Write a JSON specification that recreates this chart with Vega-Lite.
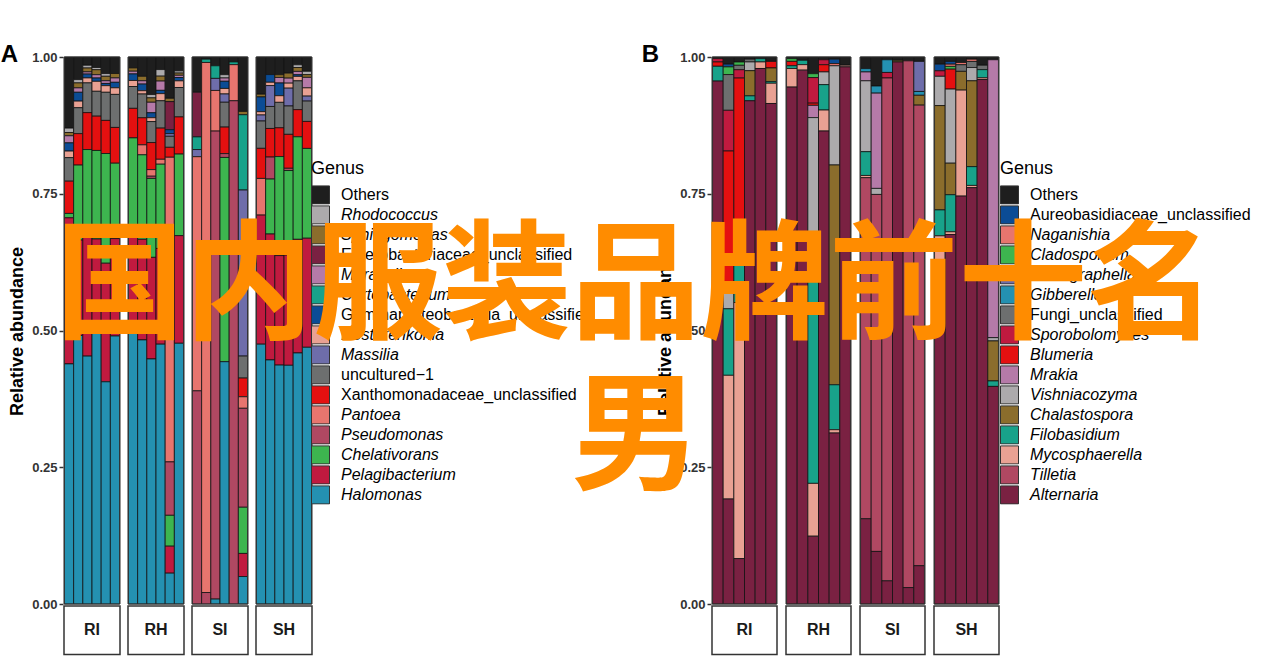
{
  "$schema": "https://vega.github.io/schema/vega-lite/v6.json",
  "background": "white",
  "padding": {"left": 0, "top": 43, "right": 0, "bottom": 0},
  "title": {"text": ["国内服装品牌前十名", "男"], "font": "Noto Sans CJK SC", "fontSize": 129, "fontWeight": "bold", "color": "#FF8C00", "anchor": "middle", "frame": "bounds", "baseline": "alphabetic", "lineHeight": 151, "offset": -566, "dx": 10, "zindex": 1},
  "datasets": {
    "rankA": [
      {"genus": "Others", "rank": 1}, {"genus": "Rhodococcus", "rank": 2}, {"genus": "Sphingomonas", "rank": 3}, {"genus": "Enterobacteriaceae_unclassified", "rank": 4},
      {"genus": "Moraxella", "rank": 5}, {"genus": "Curtobacterium", "rank": 6}, {"genus": "Gammaproteobacteria_unclassified", "rank": 7}, {"genus": "Nesterenkonia", "rank": 8},
      {"genus": "Massilia", "rank": 9}, {"genus": "uncultured−1", "rank": 10}, {"genus": "Xanthomonadaceae_unclassified", "rank": 11}, {"genus": "Pantoea", "rank": 12},
      {"genus": "Pseudomonas", "rank": 13}, {"genus": "Chelativorans", "rank": 14}, {"genus": "Pelagibacterium", "rank": 15}, {"genus": "Halomonas", "rank": 16}
    ],
    "rankB": [
      {"genus": "Others", "rank": 1}, {"genus": "Aureobasidiaceae_unclassified", "rank": 2}, {"genus": "Naganishia", "rank": 3}, {"genus": "Cladosporium", "rank": 4},
      {"genus": "Monographella", "rank": 5}, {"genus": "Gibberella", "rank": 6}, {"genus": "Fungi_unclassified", "rank": 7}, {"genus": "Sporobolomyces", "rank": 8},
      {"genus": "Blumeria", "rank": 9}, {"genus": "Mrakia", "rank": 10}, {"genus": "Vishniacozyma", "rank": 11}, {"genus": "Chalastospora", "rank": 12},
      {"genus": "Filobasidium", "rank": 13}, {"genus": "Mycosphaerella", "rank": 14}, {"genus": "Tilletia", "rank": 15}, {"genus": "Alternaria", "rank": 16}
    ],
    "A": [
      {"group": "RI", "sample": 1, "Others": 0.130, "Rhodococcus": 0.008, "Sphingomonas": 0.006, "Moraxella": 0.013, "Gammaproteobacteria_unclassified": 0.015, "Nesterenkonia": 0.012, "uncultured−1": 0.043, "Xanthomonadaceae_unclassified": 0.059, "Chelativorans": 0.008, "Pelagibacterium": 0.267, "Halomonas": 0.439},
      {"group": "RI", "sample": 2, "Others": 0.041, "Rhodococcus": 0.006, "Sphingomonas": 0.009, "Moraxella": 0.008, "Gammaproteobacteria_unclassified": 0.016, "Nesterenkonia": 0.012, "uncultured−1": 0.047, "Xanthomonadaceae_unclassified": 0.057, "Chelativorans": 0.136, "Pelagibacterium": 0.173, "Halomonas": 0.487},
      {"group": "RI", "sample": 3, "Others": 0.015, "Rhodococcus": 0.005, "Sphingomonas": 0.007, "Moraxella": 0.004, "Gammaproteobacteria_unclassified": 0.007, "Nesterenkonia": 0.009, "uncultured−1": 0.054, "Xanthomonadaceae_unclassified": 0.067, "Chelativorans": 0.155, "Pelagibacterium": 0.220, "Halomonas": 0.450},
      {"group": "RI", "sample": 4, "Others": 0.019, "Rhodococcus": 0.004, "Sphingomonas": 0.009, "Moraxella": 0.006, "Gammaproteobacteria_unclassified": 0.006, "Nesterenkonia": 0.018, "uncultured−1": 0.045, "Xanthomonadaceae_unclassified": 0.062, "Chelativorans": 0.160, "Pelagibacterium": 0.170, "Halomonas": 0.490},
      {"group": "RI", "sample": 5, "Others": 0.030, "Rhodococcus": 0.005, "Sphingomonas": 0.008, "Moraxella": 0.005, "Gammaproteobacteria_unclassified": 0.004, "Nesterenkonia": 0.012, "uncultured−1": 0.051, "Xanthomonadaceae_unclassified": 0.060, "Chelativorans": 0.199, "Pelagibacterium": 0.215, "Halomonas": 0.403},
      {"group": "RI", "sample": 6, "Others": 0.030, "Sphingomonas": 0.008, "Moraxella": 0.008, "Gammaproteobacteria_unclassified": 0.010, "Nesterenkonia": 0.012, "uncultured−1": 0.060, "Xanthomonadaceae_unclassified": 0.065, "Chelativorans": 0.137, "Pelagibacterium": 0.177, "Halomonas": 0.487},
      {"group": "RH", "sample": 1, "Others": 0.020, "Sphingomonas": 0.006, "Moraxella": 0.005, "Gammaproteobacteria_unclassified": 0.012, "Nesterenkonia": 0.011, "uncultured−1": 0.040, "Xanthomonadaceae_unclassified": 0.054, "Chelativorans": 0.160, "Pelagibacterium": 0.194, "Halomonas": 0.499},
      {"group": "RH", "sample": 2, "Others": 0.035, "Sphingomonas": 0.008, "Moraxella": 0.006, "Gammaproteobacteria_unclassified": 0.012, "Nesterenkonia": 0.006, "uncultured−1": 0.043, "Xanthomonadaceae_unclassified": 0.049, "Pantoea": 0.018, "Chelativorans": 0.153, "Pelagibacterium": 0.182, "Halomonas": 0.478},
      {"group": "RH", "sample": 3, "Others": 0.068, "Rhodococcus": 0.006, "Sphingomonas": 0.008, "Moraxella": 0.019, "Gammaproteobacteria_unclassified": 0.009, "Nesterenkonia": 0.007, "uncultured−1": 0.038, "Xanthomonadaceae_unclassified": 0.049, "Pantoea": 0.012, "Pseudomonas": 0.004, "Chelativorans": 0.143, "Pelagibacterium": 0.184, "Halomonas": 0.444},
      {"group": "RH", "sample": 4, "Others": 0.023, "Rhodococcus": 0.012, "Sphingomonas": 0.009, "Moraxella": 0.017, "Gammaproteobacteria_unclassified": 0.006, "Nesterenkonia": 0.013, "uncultured−1": 0.050, "Xanthomonadaceae_unclassified": 0.057, "Pantoea": 0.009, "Chelativorans": 0.154, "Pelagibacterium": 0.175, "Halomonas": 0.475},
      {"group": "RH", "sample": 5, "Others": 0.075, "Sphingomonas": 0.006, "Enterobacteriaceae_unclassified": 0.051, "Gammaproteobacteria_unclassified": 0.007, "Massilia": 0.005, "uncultured−1": 0.020, "Xanthomonadaceae_unclassified": 0.018, "Pantoea": 0.553, "Pseudomonas": 0.097, "Chelativorans": 0.056, "Pelagibacterium": 0.049, "Halomonas": 0.056},
      {"group": "RH", "sample": 6, "Others": 0.025, "Rhodococcus": 0.004, "Sphingomonas": 0.004, "Moraxella": 0.004, "Gammaproteobacteria_unclassified": 0.006, "Nesterenkonia": 0.012, "uncultured−1": 0.053, "Xanthomonadaceae_unclassified": 0.067, "Chelativorans": 0.147, "Pelagibacterium": 0.194, "Halomonas": 0.470},
      {"group": "SI", "sample": 1, "Others": 0.064, "Enterobacteriaceae_unclassified": 0.081, "Curtobacterium": 0.023, "Massilia": 0.013, "Pantoea": 0.425, "Pseudomonas": 0.387},
      {"group": "SI", "sample": 2, "Others": 0.004, "Curtobacterium": 0.006, "Pantoea": 0.969, "Pseudomonas": 0.021},
      {"group": "SI", "sample": 3, "Others": 0.016, "Curtobacterium": 0.023, "Massilia": 0.022, "Pantoea": 0.074, "Pseudomonas": 0.853, "Halomonas": 0.009},
      {"group": "SI", "sample": 4, "Others": 0.032, "Rhodococcus": 0.006, "Moraxella": 0.006, "Gammaproteobacteria_unclassified": 0.013, "Nesterenkonia": 0.010, "Massilia": 0.015, "uncultured−1": 0.045, "Xanthomonadaceae_unclassified": 0.048, "Pseudomonas": 0.007, "Chelativorans": 0.370, "Halomonas": 0.439},
      {"group": "SI", "sample": 5, "Others": 0.009, "Curtobacterium": 0.005, "Pantoea": 0.066, "Pseudomonas": 0.920},
      {"group": "SI", "sample": 6, "Others": 0.099, "Sphingomonas": 0.006, "Curtobacterium": 0.137, "Massilia": 0.302, "uncultured−1": 0.040, "Xanthomonadaceae_unclassified": 0.034, "Pantoea": 0.021, "Pseudomonas": 0.180, "Chelativorans": 0.084, "Pelagibacterium": 0.042, "Halomonas": 0.050},
      {"group": "SH", "sample": 1, "Others": 0.068, "Sphingomonas": 0.005, "Gammaproteobacteria_unclassified": 0.027, "Nesterenkonia": 0.006, "Massilia": 0.011, "uncultured−1": 0.050, "Xanthomonadaceae_unclassified": 0.055, "Pantoea": 0.067, "Pelagibacterium": 0.236, "Halomonas": 0.475},
      {"group": "SH", "sample": 2, "Others": 0.032, "Gammaproteobacteria_unclassified": 0.014, "Nesterenkonia": 0.006, "Massilia": 0.038, "uncultured−1": 0.040, "Xanthomonadaceae_unclassified": 0.052, "Pseudomonas": 0.040, "Chelativorans": 0.100, "Pelagibacterium": 0.229, "Halomonas": 0.444},
      {"group": "SH", "sample": 3, "Others": 0.032, "Sphingomonas": 0.005, "Moraxella": 0.010, "Gammaproteobacteria_unclassified": 0.023, "Nesterenkonia": 0.012, "uncultured−1": 0.046, "Xanthomonadaceae_unclassified": 0.052, "Chelativorans": 0.179, "Pelagibacterium": 0.198, "Halomonas": 0.432},
      {"group": "SH", "sample": 4, "Others": 0.029, "Sphingomonas": 0.009, "Moraxella": 0.009, "Nesterenkonia": 0.009, "Massilia": 0.032, "uncultured−1": 0.051, "Xanthomonadaceae_unclassified": 0.061, "Pseudomonas": 0.004, "Chelativorans": 0.152, "Pelagibacterium": 0.198, "Halomonas": 0.429},
      {"group": "SH", "sample": 5, "Others": 0.014, "Rhodococcus": 0.005, "Sphingomonas": 0.007, "Moraxella": 0.006, "Gammaproteobacteria_unclassified": 0.003, "Nesterenkonia": 0.008, "uncultured−1": 0.052, "Xanthomonadaceae_unclassified": 0.049, "Chelativorans": 0.185, "Pelagibacterium": 0.205, "Halomonas": 0.453},
      {"group": "SH", "sample": 6, "Others": 0.026, "Rhodococcus": 0.006, "Sphingomonas": 0.005, "Moraxella": 0.019, "Nesterenkonia": 0.015, "Massilia": 0.009, "uncultured−1": 0.037, "Xanthomonadaceae_unclassified": 0.049, "Chelativorans": 0.163, "Pelagibacterium": 0.198, "Halomonas": 0.466}
    ],
    "B": [
      {"group": "RI", "sample": 1, "Others": 0.003, "Blumeria": 0.008, "Sporobolomyces": 0.006, "Filobasidium": 0.027, "Alternaria": 0.956},
      {"group": "RI", "sample": 2, "Others": 0.013, "Aureobasidiaceae_unclassified": 0.005, "Cladosporium": 0.014, "Fungi_unclassified": 0.065, "Sporobolomyces": 0.074, "Blumeria": 0.259, "Vishniacozyma": 0.028, "Filobasidium": 0.121, "Mycosphaerella": 0.225, "Alternaria": 0.191},
      {"group": "RI", "sample": 3, "Others": 0.009, "Cladosporium": 0.006, "Fungi_unclassified": 0.008, "Sporobolomyces": 0.015, "Blumeria": 0.316, "Filobasidium": 0.089, "Mycosphaerella": 0.462, "Alternaria": 0.082},
      {"group": "RI", "sample": 4, "Others": 0.004, "Fungi_unclassified": 0.005, "Vishniacozyma": 0.016, "Chalastospora": 0.046, "Filobasidium": 0.009, "Alternaria": 0.920},
      {"group": "RI", "sample": 5, "Others": 0.003, "Filobasidium": 0.006, "Mycosphaerella": 0.012, "Alternaria": 0.979},
      {"group": "RI", "sample": 6, "Others": 0.008, "Blumeria": 0.012, "Chalastospora": 0.025, "Filobasidium": 0.003, "Mycosphaerella": 0.037, "Alternaria": 0.915},
      {"group": "RH", "sample": 1, "Others": 0.003, "Cladosporium": 0.005, "Blumeria": 0.008, "Filobasidium": 0.005, "Mycosphaerella": 0.034, "Alternaria": 0.945},
      {"group": "RH", "sample": 2, "Others": 0.006, "Filobasidium": 0.008, "Mycosphaerella": 0.010, "Alternaria": 0.976},
      {"group": "RH", "sample": 3, "Others": 0.030, "Cladosporium": 0.007, "Sporobolomyces": 0.046, "Blumeria": 0.004, "Mrakia": 0.022, "Vishniacozyma": 0.211, "Filobasidium": 0.447, "Mycosphaerella": 0.095, "Alternaria": 0.122},
      {"group": "RH", "sample": 4, "Others": 0.005, "Sporobolomyces": 0.009, "Blumeria": 0.013, "Vishniacozyma": 0.023, "Filobasidium": 0.046, "Mycosphaerella": 0.038, "Alternaria": 0.856},
      {"group": "RH", "sample": 5, "Others": 0.004, "Aureobasidiaceae_unclassified": 0.008, "Naganishia": 0.004, "Vishniacozyma": 0.181, "Chalastospora": 0.401, "Filobasidium": 0.082, "Mycosphaerella": 0.006, "Alternaria": 0.312},
      {"group": "RH", "sample": 6, "Others": 0.015, "Mycosphaerella": 0.003, "Alternaria": 0.981},
      {"group": "SI", "sample": 1, "Others": 0.021, "Gibberella": 0.006, "Mrakia": 0.016, "Vishniacozyma": 0.128, "Filobasidium": 0.043, "Mycosphaerella": 0.004, "Tilletia": 0.616, "Alternaria": 0.154},
      {"group": "SI", "sample": 2, "Others": 0.053, "Gibberella": 0.013, "Mrakia": 0.174, "Vishniacozyma": 0.011, "Tilletia": 0.652, "Alternaria": 0.096},
      {"group": "SI", "sample": 3, "Others": 0.005, "Gibberella": 0.023, "Sporobolomyces": 0.010, "Tilletia": 0.911, "Alternaria": 0.042},
      {"group": "SI", "sample": 4, "Others": 0.006, "Chalastospora": 0.003, "Alternaria": 0.991},
      {"group": "SI", "sample": 5, "Others": 0.007, "Tilletia": 0.961, "Alternaria": 0.030},
      {"group": "SI", "sample": 6, "Others": 0.008, "Monographella": 0.055, "Gibberella": 0.007, "Chalastospora": 0.018, "Tilletia": 0.842, "Alternaria": 0.070},
      {"group": "SH", "sample": 1, "Others": 0.013, "Aureobasidiaceae_unclassified": 0.012, "Sporobolomyces": 0.010, "Vishniacozyma": 0.053, "Chalastospora": 0.189, "Filobasidium": 0.047, "Mycosphaerella": 0.066, "Alternaria": 0.601},
      {"group": "SH", "sample": 2, "Others": 0.008, "Aureobasidiaceae_unclassified": 0.005, "Naganishia": 0.004, "Cladosporium": 0.005, "Blumeria": 0.036, "Vishniacozyma": 0.134, "Chalastospora": 0.057, "Filobasidium": 0.067, "Mycosphaerella": 0.005, "Alternaria": 0.668},
      {"group": "SH", "sample": 3, "Others": 0.010, "Naganishia": 0.004, "Fungi_unclassified": 0.012, "Chalastospora": 0.034, "Mycosphaerella": 0.192, "Alternaria": 0.739},
      {"group": "SH", "sample": 4, "Others": 0.004, "Naganishia": 0.004, "Fungi_unclassified": 0.011, "Vishniacozyma": 0.024, "Chalastospora": 0.155, "Filobasidium": 0.034, "Mycosphaerella": 0.004, "Alternaria": 0.752},
      {"group": "SH", "sample": 5, "Others": 0.015, "Fungi_unclassified": 0.008, "Filobasidium": 0.015, "Mycosphaerella": 0.003, "Alternaria": 0.955},
      {"group": "SH", "sample": 6, "Others": 0.005, "Mrakia": 0.507, "Vishniacozyma": 0.006, "Chalastospora": 0.073, "Filobasidium": 0.010, "Alternaria": 0.397}
    ]
  },
  "hconcat": [
    {
      "data": {"name": "A"},
      "title": {"text": "A", "anchor": "start", "frame": "bounds", "fontSize": 24, "fontWeight": "bold", "color": "black", "dx": -8, "offset": -16},
      "transform": [
        {"fold": ["Others", "Rhodococcus", "Sphingomonas", "Enterobacteriaceae_unclassified", "Moraxella", "Curtobacterium", "Gammaproteobacteria_unclassified", "Nesterenkonia", "Massilia", "uncultured−1", "Xanthomonadaceae_unclassified", "Pantoea", "Pseudomonas", "Chelativorans", "Pelagibacterium", "Halomonas"], "as": ["genus", "value"]},
        {"filter": "isValid(datum.value) && datum.value > 0"},
        {"lookup": "genus", "from": {"data": {"name": "rankA"}, "key": "genus", "fields": ["rank"]}}
      ],
      "facet": {"column": {"field": "group", "type": "nominal", "sort": ["RI", "RH", "SI", "SH"], "title": null, "header": {"labels": false, "title": null}}},
      "spacing": {"column": 6},
      "spec": {
        "width": 56,
        "height": 598,
        "layer": [
          {
            "mark": {"type": "bar", "stroke": "#111111", "strokeWidth": 0.8},
            "encoding": {
              "x": {"field": "sample", "type": "ordinal", "axis": null, "scale": {"paddingInner": 0, "paddingOuter": 0.05}},
              "y": {"field": "value", "type": "quantitative", "stack": "normalize", "scale": {"domain": [-0.0932, 1], "nice": false, "zero": false},
                "axis": {"values": [0, 0.25, 0.5, 0.75, 1], "labelExpr": "format(datum.value, '.2f')", "title": "Relative abundance", "titleFontSize": 18, "titleFontWeight": "bold", "titleColor": "black", "titlePadding": 5, "titleY": 274, "labelFontSize": 13, "labelFontWeight": "bold", "labelColor": "#333333", "labelPadding": 2, "tickSize": 4, "tickColor": "#333333", "tickWidth": 1.5, "domain": false, "grid": false}},
              "order": {"field": "rank", "type": "quantitative", "sort": "descending"},
              "color": {"field": "genus", "type": "nominal",
                "scale": {"domain": ["Others", "Rhodococcus", "Sphingomonas", "Enterobacteriaceae_unclassified", "Moraxella", "Curtobacterium", "Gammaproteobacteria_unclassified", "Nesterenkonia", "Massilia", "uncultured−1", "Xanthomonadaceae_unclassified", "Pantoea", "Pseudomonas", "Chelativorans", "Pelagibacterium", "Halomonas"],
                  "range": ["#1E1E1E", "#ACAAAC", "#8B6D2C", "#7A2142", "#B57AA8", "#18A28A", "#0B4C95", "#E9A193", "#6E6DAA", "#6D6F6F", "#E41010", "#E7756E", "#B04862", "#3DB54F", "#C01A3F", "#2491B1"]},
                "legend": {"title": "Genus", "orient": "none", "legendX": 247, "legendY": 103, "symbolType": "square", "symbolSize": 324, "symbolStrokeColor": "#333333", "symbolStrokeWidth": 1, "symbolOpacity": 1, "labelFontSize": 16, "labelOffset": 11, "labelLimit": 400, "labelColor": "black", "clipHeight": 19.8, "rowPadding": 0, "titleFontSize": 18, "titleFontWeight": "normal", "titleColor": "black", "titlePadding": 7,
                  "encode": {"labels": {"update": {"fontStyle": {"signal": "test(/unclassified|Others|uncultured/, datum.label) ? 'normal' : 'italic'"}}}}}
              }
            }
          },
          {
            "transform": [{"filter": "datum.sample == 1 && datum.genus == 'Others'"}],
            "mark": {"type": "rect", "fill": "transparent", "stroke": "#333333", "strokeWidth": 1},
            "encoding": {"y": {"datum": 0, "type": "quantitative"}, "y2": {"datum": 1}}
          },
          {
            "transform": [{"filter": "datum.sample == 1 && datum.genus == 'Others'"}],
            "mark": {"type": "rect", "fill": "white", "stroke": "#333333", "strokeWidth": 1.5},
            "encoding": {"y": {"datum": -0.0925, "type": "quantitative"}, "y2": {"datum": -0.0035}}
          },
          {
            "transform": [{"filter": "datum.sample == 1 && datum.genus == 'Others'"}],
            "mark": {"type": "text", "fontSize": 16, "fontWeight": "bold", "color": "#1A1A1A", "baseline": "middle"},
            "encoding": {"y": {"datum": -0.048, "type": "quantitative"}, "text": {"field": "group"}}
          }
        ]
      }
    },
    {
      "data": {"name": "B"},
      "title": {"text": "B", "anchor": "start", "frame": "bounds", "fontSize": 24, "fontWeight": "bold", "color": "black", "dx": -15, "offset": -16},
      "transform": [
        {"fold": ["Others", "Aureobasidiaceae_unclassified", "Naganishia", "Cladosporium", "Monographella", "Gibberella", "Fungi_unclassified", "Sporobolomyces", "Blumeria", "Mrakia", "Vishniacozyma", "Chalastospora", "Filobasidium", "Mycosphaerella", "Tilletia", "Alternaria"], "as": ["genus", "value"]},
        {"filter": "isValid(datum.value) && datum.value > 0"},
        {"lookup": "genus", "from": {"data": {"name": "rankB"}, "key": "genus", "fields": ["rank"]}}
      ],
      "facet": {"column": {"field": "group", "type": "nominal", "sort": ["RI", "RH", "SI", "SH"], "title": null, "header": {"labels": false, "title": null}}},
      "spacing": {"column": 7},
      "spec": {
        "width": 65,
        "height": 598,
        "layer": [
          {
            "mark": {"type": "bar", "stroke": "#111111", "strokeWidth": 0.8},
            "encoding": {
              "x": {"field": "sample", "type": "ordinal", "axis": null, "scale": {"paddingInner": 0, "paddingOuter": 0.05}},
              "y": {"field": "value", "type": "quantitative", "stack": "normalize", "scale": {"domain": [-0.0932, 1], "nice": false, "zero": false},
                "axis": {"values": [0, 0.25, 0.5, 0.75, 1], "labelExpr": "format(datum.value, '.2f')", "title": "Relative abundance", "titleFontSize": 18, "titleFontWeight": "bold", "titleColor": "black", "titlePadding": 5, "titleY": 274, "labelFontSize": 13, "labelFontWeight": "bold", "labelColor": "#333333", "labelPadding": 2, "tickSize": 4, "tickColor": "#333333", "tickWidth": 1.5, "domain": false, "grid": false}},
              "order": {"field": "rank", "type": "quantitative", "sort": "descending"},
              "color": {"field": "genus", "type": "nominal",
                "scale": {"domain": ["Others", "Aureobasidiaceae_unclassified", "Naganishia", "Cladosporium", "Monographella", "Gibberella", "Fungi_unclassified", "Sporobolomyces", "Blumeria", "Mrakia", "Vishniacozyma", "Chalastospora", "Filobasidium", "Mycosphaerella", "Tilletia", "Alternaria"],
                  "range": ["#1E1E1E", "#0B4C95", "#E7756E", "#3DB54F", "#6E6DAA", "#2491B1", "#6D6F6F", "#C01A3F", "#E41010", "#B57AA8", "#ACAAAC", "#8B6D2C", "#18A28A", "#E9A193", "#B04862", "#7A2142"]},
                "legend": {"title": "Genus", "orient": "none", "legendX": 288, "legendY": 103, "symbolType": "square", "symbolSize": 324, "symbolStrokeColor": "#333333", "symbolStrokeWidth": 1, "symbolOpacity": 1, "labelFontSize": 16, "labelOffset": 11, "labelLimit": 400, "labelColor": "black", "clipHeight": 19.8, "rowPadding": 0, "titleFontSize": 18, "titleFontWeight": "normal", "titleColor": "black", "titlePadding": 7,
                  "encode": {"labels": {"update": {"fontStyle": {"signal": "test(/unclassified|Others|uncultured/, datum.label) ? 'normal' : 'italic'"}}}}}
              }
            }
          },
          {
            "transform": [{"filter": "datum.sample == 1 && datum.genus == 'Others'"}],
            "mark": {"type": "rect", "fill": "transparent", "stroke": "#333333", "strokeWidth": 1},
            "encoding": {"y": {"datum": 0, "type": "quantitative"}, "y2": {"datum": 1}}
          },
          {
            "transform": [{"filter": "datum.sample == 1 && datum.genus == 'Others'"}],
            "mark": {"type": "rect", "fill": "white", "stroke": "#333333", "strokeWidth": 1.5},
            "encoding": {"y": {"datum": -0.0925, "type": "quantitative"}, "y2": {"datum": -0.0035}}
          },
          {
            "transform": [{"filter": "datum.sample == 1 && datum.genus == 'Others'"}],
            "mark": {"type": "text", "fontSize": 16, "fontWeight": "bold", "color": "#1A1A1A", "baseline": "middle"},
            "encoding": {"y": {"datum": -0.048, "type": "quantitative"}, "text": {"field": "group"}}
          }
        ]
      }
    }
  ],
  "spacing": 48,
  "resolve": {"scale": {"color": "independent"}, "legend": {"color": "independent"}},
  "config": {
    "view": {"stroke": null},
    "font": "Liberation Sans",
    "legend": {"labelFont": "Liberation Sans", "titleFont": "Liberation Sans"},
    "axis": {"labelFont": "Liberation Sans", "titleFont": "Liberation Sans"}
  }
}
